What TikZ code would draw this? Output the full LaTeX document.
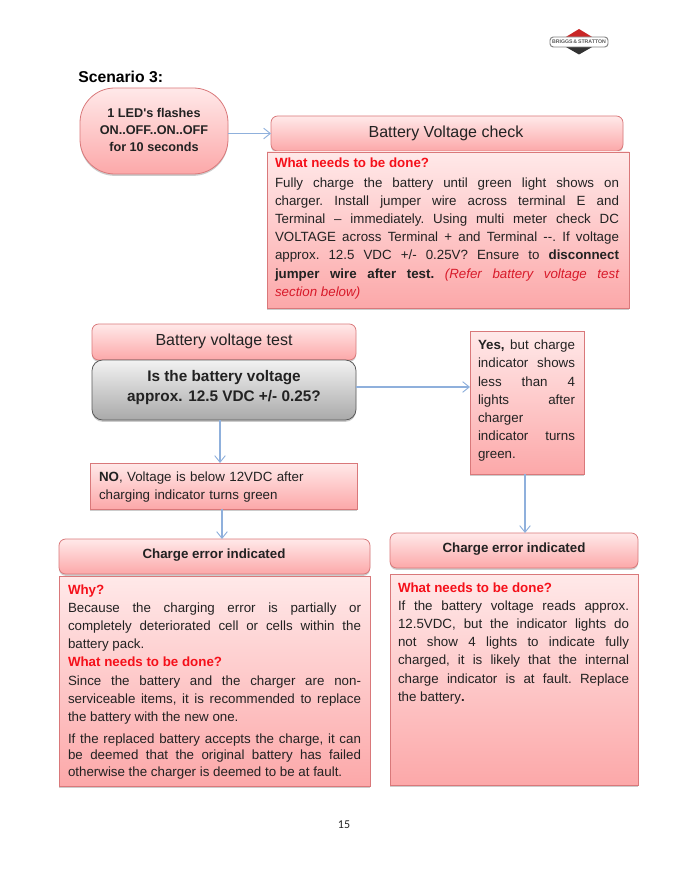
\documentclass[tikz,border=0pt]{standalone}
\usepackage{fontspec}
\setmainfont{Liberation Sans}
\newfontfamily\pagefont{Carlito}
\usetikzlibrary{arrows.meta,shadows,calc}
\newdimen\px \px=0.75pt
\definecolor{inktext}{HTML}{222222}
\definecolor{redhead}{HTML}{F5101A}
\definecolor{redital}{HTML}{D81A2A}
\definecolor{pinktop}{HTML}{FFE9E9}
\definecolor{pinkbot}{HTML}{FCA8A9}
\definecolor{pinkline}{HTML}{D9787A}
\definecolor{greytop}{HTML}{F2F2F2}
\definecolor{greybot}{HTML}{A9A9A9}
\definecolor{arrowblue}{HTML}{8FB0DC}
\newcommand{\redhd}[1]{{\bfseries\color{redhead}#1}}
\tikzset{
  x=0.75pt,y=-0.75pt,
  basebox/.style={anchor=north west,inner sep=0pt,outer sep=0pt,draw=pinkline,line width=0.6pt,
    top color=pinktop,bottom color=pinkbot,drop shadow={opacity=.4,shadow xshift=0pt,shadow yshift=-1.4pt}},
  headbox/.style={basebox,rounded corners=5pt},
  flatbox/.style={basebox},
  greybox/.style={basebox,rounded corners=8pt,draw=black!65,top color=greytop,bottom color=greybot},
  startbox/.style={basebox,rounded corners=26pt},
  body/.style={anchor=north west,inner sep=0pt,outer sep=0pt,align=justify,text=inktext,
    font=\fontsize{10}{13.65}\selectfont\frenchspacing},
  boldc/.style={align=center,text=inktext,inner sep=0pt,font=\fontsize{9.5}{12.4}\selectfont\bfseries},
  chargec/.style={align=center,text=inktext,inner sep=0pt,font=\fontsize{10}{13.65}\selectfont\bfseries},
  title/.style={align=center,text=inktext,inner sep=0pt,font=\fontsize{12}{14}\selectfont},
  conn/.style={draw=arrowblue,line width=0.8pt,-{Straight Barb[length=5pt,width=8pt,line width=0.7pt]}},
}
\tolerance=9999 \hbadness=10000 \hfuzz=20pt
\begin{document}
\begin{tikzpicture}
\useasboundingbox (0,0) rectangle (683,884);
% logo
\fill[fill=red!75!black!85] (579,29) -- (593,37.5) -- (565,37.5) -- cycle;
\fill[black!80] (565,46.5) -- (593,46.5) -- (579,54.5) -- cycle;
\node[draw=black!50,fill=white,line width=0.7pt,rounded corners=2.5pt,minimum width=58\px,minimum height=10\px,inner sep=0pt,
  font=\fontsize{3.9}{4.5}\selectfont\bfseries,text=black!65] (logo) at (579,42) {BRIGGS\,\&\,STRATTON};
% heading
\node[anchor=west,inner sep=0pt,text=black,font=\fontsize{11.8}{14}\selectfont\bfseries] (scen) at (78,77) {Scenario 3:};
% boxes
\node[startbox,minimum width=148\px,minimum height=86\px] (start) at (80,88) {};
\node[boldc] (startt) at (154,130) {1 LED\textquotesingle s flashes\\ON..OFF..ON..OFF\\for 10 seconds};
\node[headbox,minimum width=352\px,minimum height=35\px,title] (check) at (271,116) {};
\node[title] (checkt) at (446,133) {Battery Voltage check};
\node[flatbox,minimum width=362\px,minimum height=156\px] (what) at (267,152) {};
\node[body,text width=344\px] (whatt) at (275,158) {\redhd{What needs to be done?}\par\vspace{1pt}
Fully charge the battery until green light shows on\linebreak
charger. Install jumper wire across terminal E and\linebreak
Terminal – immediately. Using multi meter check DC\linebreak
VOLTAGE across Terminal + and Terminal {-}{-}. If voltage\linebreak
approx. 12.5 VDC +/- 0.25V? Ensure to \textbf{disconnect}\linebreak
\textbf{jumper wire after test.} {\itshape\color{redital}(Refer battery voltage test\linebreak
section below)}\par};
\node[headbox,minimum width=264\px,minimum height=36\px] (test) at (92,324) {};
\node[title] (testt) at (224,341) {Battery voltage test};
\node[greybox,minimum width=264\px,minimum height=60\px] (quest) at (92,360) {};
\node[align=center,text=inktext,inner sep=0pt,font=\fontsize{11.5}{15}\selectfont\bfseries] (questt) at (224,387.5) {Is the battery voltage\\approx. 12.5 VDC +/- 0.25?};
\node[flatbox,minimum width=114\px,minimum height=143\px] (yes) at (470,331) {};
\node[body,text width=97\px] (yest) at (478,340) {\textbf{Yes,} but charge\linebreak
indicator shows\linebreak
less than 4\linebreak
lights after\linebreak
charger\par
indicator turns\linebreak
green.\par};
\node[flatbox,minimum width=267\px,minimum height=46\px] (no) at (90,463) {};
\node[body,text width=250\px,align=left] (not) at (99,472) {\textbf{NO}, Voltage is below 12VDC after\\charging indicator turns green};
\node[headbox,minimum width=311\px,minimum height=35\px] (cl) at (59,539) {};
\node[chargec] (clt) at (214,555) {Charge error indicated};
\node[headbox,minimum width=248\px,minimum height=35\px] (cr) at (390,533) {};
\node[chargec] (crt) at (514,549) {Charge error indicated};
\node[flatbox,minimum width=311\px,minimum height=210\px] (why) at (59,576) {};
\node[body,text width=293\px] (whyt) at (68,584.5) {\redhd{Why?}\par
Because the charging error is partially or\linebreak
completely deteriorated cell or cells within the\linebreak
battery pack.\par
\redhd{What needs to be done?}\par
Since the battery and the charger are non-\linebreak
serviceable items, it is recommended to replace\linebreak
the battery with the new one.\par};
\node[body,text width=293\px,font=\fontsize{10}{12.4}\selectfont\frenchspacing] (whyu) at (68,733.5) {If the replaced battery accepts the charge, it can\linebreak
be deemed that the original battery has failed\linebreak
otherwise the charger is deemed to be at fault.\par};
\node[flatbox,minimum width=248\px,minimum height=211\px] (done) at (390,574) {};
\node[body,text width=231\px] (donet) at (398,582.5) {\redhd{What needs to be done?}\par
If the battery voltage reads approx.\linebreak
12.5VDC, but the indicator lights do\linebreak
not show 4 lights to indicate fully\linebreak
charged, it is likely that the internal\linebreak
charge indicator is at fault. Replace\linebreak
the battery\textbf{.}\par};
\node[inner sep=0pt,text=inktext,font=\pagefont\fontsize{9}{11}\selectfont] (page) at (344,825) {15};
% connectors
\draw[conn] (start.east |- check.west) coordinate (se) (se) -- (check.west);
\draw[conn] (quest.east) ++(0,-3) coordinate (qe) (qe) -- (yes.west |- qe);
\draw[conn] (quest.south -| not.west) ++(121,0) coordinate (qs) (qs) -- (qs |- no.north);
\draw[conn] (no.south) ++(-1.5,0) coordinate (ns) (ns) -- (ns |- cl.north);
\draw[conn] (yes.south) ++(-2,0) coordinate (ys) (ys) -- (ys |- cr.north);
\end{tikzpicture}
\end{document}
